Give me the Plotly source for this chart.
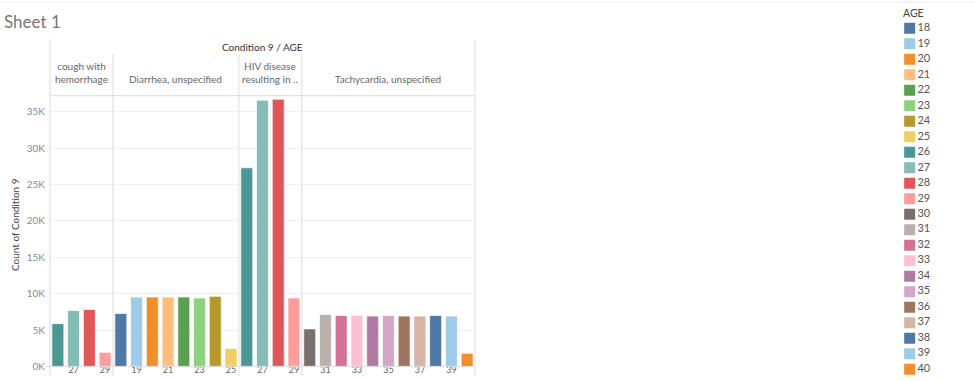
import plotly.graph_objects as go

# ---------------- data ----------------
conditions = ["cough with hemorrhage", "Diarrhea, unspecified",
              "HIV disease resulting in ..", "Tachycardia, unspecified"]
header_labels = ["cough with<br>hemorrhage", "Diarrhea, unspecified",
                 "HIV disease<br>resulting in ..", "Tachycardia, unspecified"]
cough_ages = [26, 27, 28, 29]
cough_counts = [5880, 7680, 7820, 1940]
diarrhea_ages = [18, 19, 20, 21, 22, 23, 24, 25]
diarrhea_counts = [7270, 9540, 9540, 9540, 9540, 9400, 9630, 2480]
hiv_ages = [26, 27, 28, 29]
hiv_counts = [27300, 36580, 36720, 9400]
tachy_ages = [30, 31, 32, 33, 34, 35, 36, 37, 38, 39, 40]
tachy_counts = [5160, 7140, 7000, 7000, 6920, 7000, 6920, 6920, 7000, 6920, 1800]
legend_ages = list(range(18, 41))
age_colors = {
    18: "#4E79A7", 19: "#A0CBE8", 20: "#F28E2B", 21: "#FFBE7D", 22: "#59A14F",
    23: "#8CD17D", 24: "#B6992D", 25: "#F1CE63", 26: "#499894", 27: "#86BCB6",
    28: "#E15759", 29: "#FF9D9A", 30: "#79706E", 31: "#BAB0AC", 32: "#D37295",
    33: "#FABFD2", 34: "#B07AA1", 35: "#D4A6C8", 36: "#9D7660", 37: "#D7B5A6",
    38: "#4E79A7", 39: "#A0CBE8", 40: "#F28E2B",
}
y_ticks = [0, 5000, 10000, 15000, 20000, 25000, 30000, 35000]
y_tick_text = ["0K", "5K", "10K", "15K", "20K", "25K", "30K", "35K"]

panels = [(cough_ages, cough_counts), (diarrhea_ages, diarrhea_counts),
          (hiv_ages, hiv_counts), (tachy_ages, tachy_counts)]

# ---------------- layout geometry (pixels) ----------------
W, H = 975, 381
FONT = "Lato"
left_px, right_px = 50, 475
bottom_px, top_px = 371.3, 97
n_total = sum(len(a) for a, _ in panels)
slot = (right_px - left_px) / n_total

def px_x(p):
    return p / W

def px_y(p):
    return (H - p) / H

bounds = [left_px]
for a, _ in panels:
    bounds.append(bounds[-1] + len(a) * slot)

fig = go.Figure()
layout = dict(
    width=W, height=H,
    margin=dict(l=0, r=0, t=0, b=0),
    paper_bgcolor="white", plot_bgcolor="white",
    showlegend=False, bargap=0.24,
    font=dict(family=FONT, size=10, color="#555"),
    yaxis=dict(
        domain=[px_y(bottom_px), px_y(top_px)], range=[0, 37200],
        anchor="x", tickvals=y_ticks, ticktext=y_tick_text,
        showgrid=True, gridcolor="#f0f0f0", gridwidth=1,
        zeroline=False, showline=False, ticks="", fixedrange=True,
        tickfont=dict(family=FONT, size=10, color="#8a8a8a"),
        ticklabelstandoff=4,
    ),
)

for i, (ages, counts) in enumerate(panels):
    ax = "" if i == 0 else str(i + 1)
    fig.add_trace(go.Bar(
        x=ages, y=counts, xaxis="x" + ax, yaxis="y",
        marker=dict(color=[age_colors[a] for a in ages],
                    line=dict(color="rgba(255,255,255,0.7)", width=1)),
        hoverinfo="skip",
    ))
    layout["xaxis" + ax] = dict(
        domain=[px_x(bounds[i]), px_x(bounds[i + 1])],
        range=[min(ages) - 0.5, max(ages) + 0.5],
        anchor="y", tick0=min(ages) + 1, dtick=2, tickmode="linear",
        showgrid=False, zeroline=False, showline=False, ticks="", fixedrange=True,
        tickfont=dict(family=FONT, size=9, color="#666"),
        ticklabelstandoff=-3,
    )

# custom legend drawn on its own axis
fig.add_trace(go.Scatter(
    x=[0.33] * len(legend_ages), y=legend_ages, xaxis="x5", yaxis="y5",
    mode="markers", hoverinfo="skip",
    marker=dict(symbol="square", size=11, color=[age_colors[a] for a in legend_ages],
                line=dict(width=0)),
))
fig.add_trace(go.Scatter(
    x=[0.41] * len(legend_ages), y=legend_ages, xaxis="x5", yaxis="y5",
    mode="text", text=[str(a) for a in legend_ages], textposition="middle right",
    textfont=dict(family=FONT, size=11, color="#555"), hoverinfo="skip",
))
layout["xaxis5"] = dict(domain=[0.9, 1.0], range=[0, 1], visible=False,
                        anchor="y5", fixedrange=True)
leg_first_px, leg_step = 28.7, 15.7
layout["yaxis5"] = dict(
    domain=[0, 1], anchor="x5", visible=False, fixedrange=True,
    range=[legend_ages[0] + (H - leg_first_px) / leg_step,
           legend_ages[0] - leg_first_px / leg_step],
)

line_col = "#dcdcdc"
shapes = []
def hline(y, x0, x1, color=line_col):
    shapes.append(dict(type="line", xref="paper", yref="paper",
                       x0=px_x(x0), x1=px_x(x1), y0=px_y(y), y1=px_y(y),
                       line=dict(color=color, width=1)))
def vline(x, y0, y1, color=line_col):
    shapes.append(dict(type="line", xref="paper", yref="paper",
                       x0=px_x(x), x1=px_x(x), y0=px_y(y0), y1=px_y(y1),
                       line=dict(color=color, width=1)))

hline(2, 0, W, "#eeeeee")
vline(bounds[0], 40, H)
vline(bounds[-1], 40, H)
for b in bounds[1:-1]:
    vline(b, 55, H)
hline(top_px, bounds[0], bounds[-1])
hline(bottom_px, bounds[0] - 5, bounds[-1])
layout["shapes"] = shapes

ann = []
ann.append(dict(text="Sheet 1", xref="paper", yref="paper", x=px_x(2), y=px_y(22),
                xanchor="left", yanchor="middle", showarrow=False,
                font=dict(family=FONT, size=17, color="#777")))
ann.append(dict(text="Condition 9 / AGE", xref="paper", yref="paper",
                x=px_x((bounds[0] + bounds[-1]) / 2), y=px_y(48),
                xanchor="center", yanchor="middle", showarrow=False,
                font=dict(family=FONT, size=10, color="#333")))
for i, lab in enumerate(header_labels):
    ann.append(dict(text=lab, xref="paper", yref="paper",
                    x=px_x((bounds[i] + bounds[i + 1]) / 2), y=px_y(88),
                    xanchor="center", yanchor="bottom", showarrow=False,
                    font=dict(family=FONT, size=10, color="#666")))
ann.append(dict(text="Count of Condition 9", xref="paper", yref="paper",
                x=px_x(15), y=px_y(228), textangle=-90,
                xanchor="center", yanchor="middle", showarrow=False,
                font=dict(family=FONT, size=10, color="#444")))
ann.append(dict(text="AGE", xref="paper", yref="paper", x=px_x(901), y=px_y(13),
                xanchor="left", yanchor="middle", showarrow=False,
                font=dict(family=FONT, size=10.5, color="#444")))
layout["annotations"] = ann

fig.update_layout(**layout)

clip_js = (
    "document.body.style.margin='0px';"
    "document.body.style.overflow='hidden';"
)
fig.write_html("out.html", config={"displayModeBar": False, "staticPlot": True},
               post_script=clip_js)
